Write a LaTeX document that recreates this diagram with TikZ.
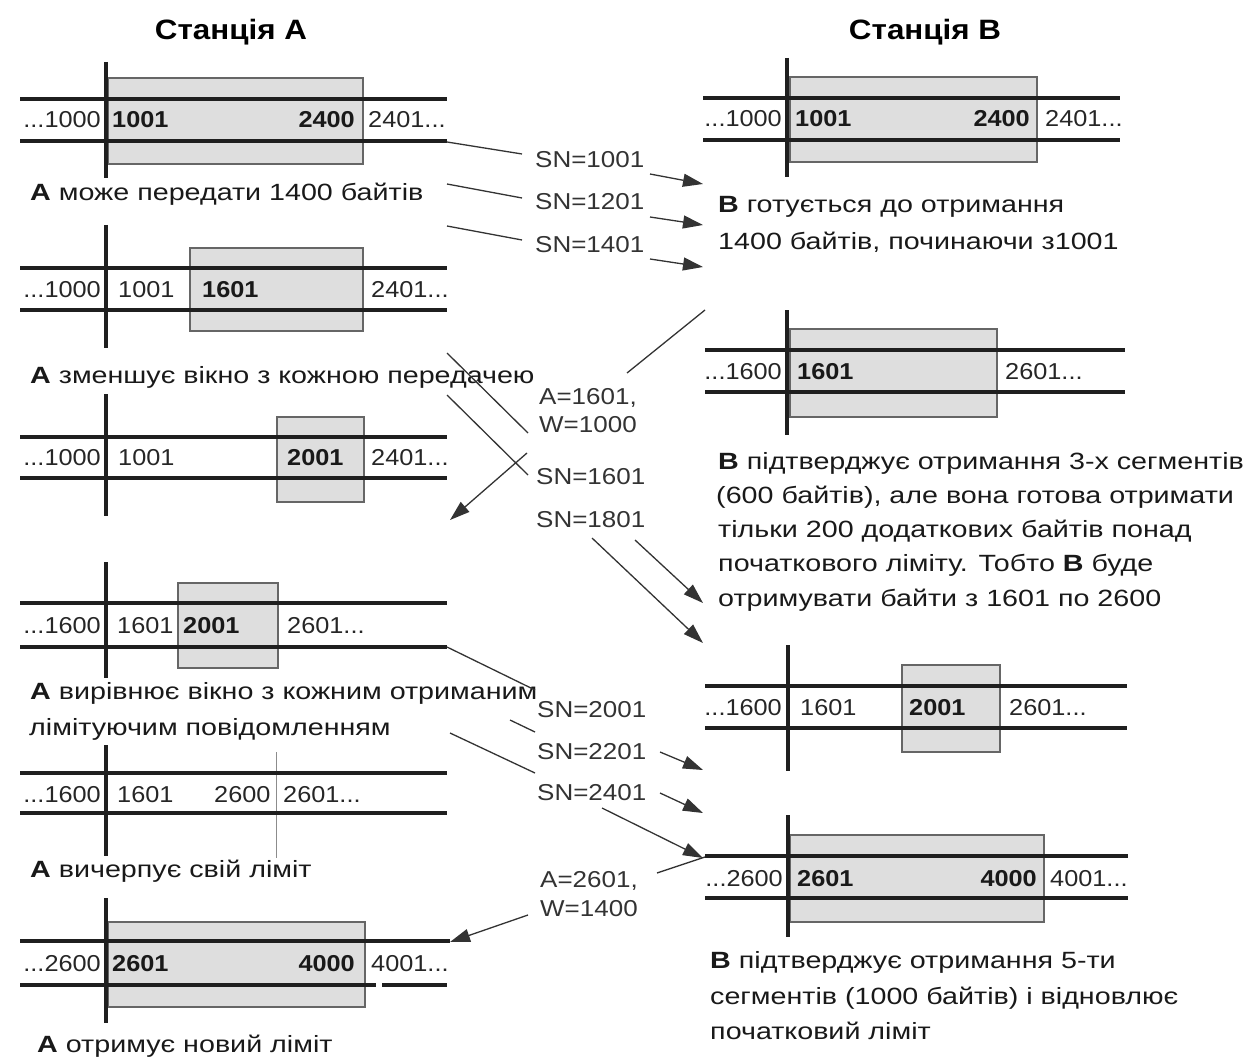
\documentclass[tikz,border=0pt]{standalone}
\usepackage{fontspec}
\setmainfont{Liberation Sans}
\newfontfamily\capfont{Liberation Sans}[FakeStretch=1.22]
\newfontfamily\numfont{Liberation Sans}[FakeStretch=1.1]
\newfontfamily\lblfont{Liberation Sans}[FakeStretch=1.13]
\newfontfamily\ttlfont{Liberation Sans}[FakeStretch=1.12]
\usetikzlibrary{arrows.meta}
\newcommand{\Strip}[7]{%
  \draw[tl] (#4,#2) -- (#5,#2);
  \draw[tl] (#4,#3) -- (#5,#3);
  \draw[vl] (#1,#6) -- (#1,#7);}
\begin{document}
\begin{tikzpicture}[x=1pt,y=-1pt,
  tl/.style={line width=3.6pt, black!88},
  vl/.style={line width=3.2pt, black!88},
  win/.style={fill=black!13, draw=black!60, line width=1.1pt},
  thinl/.style={line width=0.9pt, black!45},
  num/.style={font=\numfont\fontsize{23}{27}\selectfont, inner sep=0pt, text=black!85},
  bnum/.style={font=\numfont\fontsize{23}{27}\selectfont\bfseries, inner sep=0pt, text=black!90},
  capt/.style={font=\capfont\fontsize{23.5}{28}\selectfont, inner sep=0pt, anchor=base west, text=black!90},
  ttl/.style={font=\ttlfont\fontsize{28}{32}\selectfont\bfseries, inner sep=0pt, anchor=base},
  lbl/.style={font=\lblfont\fontsize{23}{27}\selectfont, inner sep=0pt, anchor=base west, text=black!80},
  conn/.style={line width=1.3pt, black!80},
  arr/.style={conn, -{Triangle[length=20pt,width=13pt]}}]
\useasboundingbox (0,0) rectangle (1257,1059);

% titles
\node[ttl] (tA) at (231,40) {Станція А};
\node[ttl] (tB) at (925,40) {Станція В};

% ---------- Station A ----------
% A1
\draw[win] (108,78) rectangle (363,164);
\Strip{106}{99}{141}{20}{447}{62}{178}
\node[num,anchor=base east] (a1n1) at (101,128) {...1000};
\node[bnum,anchor=base west] (a1n2) at (112,128) {1001};
\node[bnum,anchor=base east] (a1n3) at (355,128) {2400};
\node[num,anchor=base west] (a1n4) at (368,128) {2401...};
\node[capt] (a1c) at (30,201) {\textbf{А} може передати 1400 байтів};

% A2
\draw[win] (190,248) rectangle (363,331);
\Strip{106}{268}{310}{20}{447}{225}{348}
\node[num,anchor=base east] (a2n1) at (101,297) {...1000};
\node[num,anchor=base west] (a2n2) at (118,297) {1001};
\node[bnum,anchor=base west] (a2n3) at (202,297) {1601};
\node[num,anchor=base west] (a2n4) at (371,297) {2401...};
\node[capt] (a2c) at (30,383) {\textbf{А} зменшує вікно з кожною передачею};

% A3
\draw[win] (277,417) rectangle (364,502);
\Strip{106}{437}{478}{20}{447}{394}{516}
\node[num,anchor=base east] (a3n1) at (101,465) {...1000};
\node[num,anchor=base west] (a3n2) at (118,465) {1001};
\node[bnum,anchor=base west] (a3n3) at (287,465) {2001};
\node[num,anchor=base west] (a3n4) at (371,465) {2401...};

% A4
\draw[win] (178,583) rectangle (278,668);
\Strip{106}{603}{647}{20}{447}{562}{678}
\node[num,anchor=base east] (a4n1) at (101,633) {...1600};
\node[num,anchor=base west] (a4n2) at (117,633) {1601};
\node[bnum,anchor=base west] (a4n3) at (183,633) {2001};
\node[num,anchor=base west] (a4n4) at (287,633) {2601...};
\node[capt] (a4c1) at (30,699) {\textbf{А} вирівнює вікно з кожним отриманим};
\node[capt] (a4c2) at (29,735) {лімітуючим повідомленням};

% A5
\draw[thinl] (276,752) -- (276,858);
\Strip{106}{773}{813}{20}{447}{745}{856}
\node[num,anchor=base east] (a5n1) at (101,802) {...1600};
\node[num,anchor=base west] (a5n2) at (117,802) {1601};
\node[num,anchor=base west] (a5n3) at (214,802) {2600};
\node[num,anchor=base west] (a5n4) at (283,802) {2601...};
\node[capt] (a5c) at (30,877) {\textbf{А} вичерпує свій ліміт};

% A6
\draw[win] (108,922) rectangle (365,1007);
\draw[tl] (20,941) -- (450,941);
\draw[tl] (20,985) -- (376,985);
\draw[tl] (382,985) -- (447,985);
\draw[vl] (106,898) -- (106,1023);
\node[num,anchor=base east] (a6n1) at (101,971) {...2600};
\node[bnum,anchor=base west] (a6n2) at (112,971) {2601};
\node[bnum,anchor=base east] (a6n3) at (355,971) {4000};
\node[num,anchor=base west] (a6n4) at (371,971) {4001...};
\node[capt] (a6c) at (37,1052) {\textbf{А} отримує новий ліміт};

% ---------- Station B ----------
% B1
\draw[win] (790,77) rectangle (1037,162);
\Strip{787}{98}{140}{703}{1120}{58}{177}
\node[num,anchor=base east] (b1n1) at (782,127) {...1000};
\node[bnum,anchor=base west] (b1n2) at (795,127) {1001};
\node[bnum,anchor=base east] (b1n3) at (1030,127) {2400};
\node[num,anchor=base west] (b1n4) at (1045,127) {2401...};
\node[capt] (b1c1) at (718,213) {\textbf{В} готується до отримання};
\node[capt] (b1c2) at (718,250) {1400 байтів, починаючи з1001};

% B2
\draw[win] (790,329) rectangle (997,417);
\Strip{787}{350}{392}{705}{1125}{310}{435}
\node[num,anchor=base east] (b2n1) at (782,379) {...1600};
\node[bnum,anchor=base west] (b2n2) at (797,379) {1601};
\node[num,anchor=base west] (b2n3) at (1005,379) {2601...};
\node[capt] (b2c1) at (718,469) {\textbf{В} підтверджує отримання 3-х сегментів};
\node[capt] (b2c2) at (716,503) {(600 байтів), але вона готова отримати};
\node[capt] (b2c3) at (718,537) {тільки 200 додаткових байтів понад};
\node[capt] (b2c4) at (718,571) {початкового ліміту. Тобто \textbf{В} буде};
\node[capt] (b2c5) at (718,606) {отримувати байти з 1601 по 2600};

% B3
\draw[win] (902,665) rectangle (1000,752);
\Strip{788}{686}{728}{705}{1127}{645}{771}
\node[num,anchor=base east] (b3n1) at (782,715) {...1600};
\node[num,anchor=base west] (b3n2) at (800,715) {1601};
\node[bnum,anchor=base west] (b3n3) at (909,715) {2001};
\node[num,anchor=base west] (b3n4) at (1009,715) {2601...};

% B4
\draw[win] (790,835) rectangle (1044,922);
\Strip{788}{856}{898}{705}{1128}{815}{937}
\node[num,anchor=base east] (b4n1) at (783,886) {...2600};
\node[bnum,anchor=base west] (b4n2) at (797,886) {2601};
\node[bnum,anchor=base east] (b4n3) at (1037,886) {4000};
\node[num,anchor=base west] (b4n4) at (1050,886) {4001...};
\node[capt] (b4c1) at (710,968) {\textbf{В} підтверджує отримання 5-ти};
\node[capt] (b4c2) at (710,1004) {сегментів (1000 байтів) і відновлює};
\node[capt] (b4c3) at (710,1039) {початковий ліміт};

% ---------- middle labels ----------
\node[lbl] (sn1) at (535,168) {SN=1001};
\node[lbl] (sn2) at (535,210) {SN=1201};
\node[lbl] (sn3) at (535,252) {SN=1401};
\node[lbl] (ak1a) at (539,404) {A=1601,};
\node[lbl] (ak1b) at (539,432) {W=1000};
\node[lbl] (sn4) at (536,484) {SN=1601};
\node[lbl] (sn5) at (536,527) {SN=1801};
\node[lbl] (sn6) at (537,717) {SN=2001};
\node[lbl] (sn7) at (537,759) {SN=2201};
\node[lbl] (sn8) at (537,800) {SN=2401};
\node[lbl] (ak2a) at (540,887) {A=2601,};
\node[lbl] (ak2b) at (540,916) {W=1400};

% ---------- connectors ----------
\coordinate (s1a) at (447,142); \coordinate (s1b) at (522,154);
\coordinate (s1c) at (650,174); \coordinate (s1d) at (703,184);
\coordinate (s2a) at (447,184); \coordinate (s2b) at (522,198);
\coordinate (s2c) at (650,217); \coordinate (s2d) at (703,225);
\coordinate (s3a) at (447,226); \coordinate (s3b) at (522,240);
\coordinate (s3c) at (650,259); \coordinate (s3d) at (703,267);
\coordinate (k1a) at (705,310); \coordinate (k1b) at (627,373);
\coordinate (k1c) at (527,453); \coordinate (k1d) at (450,520);
\coordinate (s4a) at (447,353); \coordinate (s4b) at (528,433);
\coordinate (s4c) at (635,540); \coordinate (s4d) at (703,603);
\coordinate (s5a) at (447,395); \coordinate (s5b) at (528,475);
\coordinate (s5c) at (592,538); \coordinate (s5d) at (703,643);
\coordinate (s6a) at (447,647); \coordinate (s6b) at (535,690);
\coordinate (s6c) at (660,752); \coordinate (s6d) at (703,770);
\coordinate (s7a) at (510,720); \coordinate (s7b) at (535,732);
\coordinate (s7c) at (660,793); \coordinate (s7d) at (703,813);
\coordinate (s8a) at (450,733); \coordinate (s8b) at (535,773);
\coordinate (s8c) at (602,808); \coordinate (s8d) at (703,858);
\coordinate (k2a) at (705,857); \coordinate (k2b) at (657,873);
\coordinate (k2c) at (528,915); \coordinate (k2d) at (450,942);

\draw[conn] (s1a) -- (s1b); \draw[arr] (s1c) -- (s1d);
\draw[conn] (s2a) -- (s2b); \draw[arr] (s2c) -- (s2d);
\draw[conn] (s3a) -- (s3b); \draw[arr] (s3c) -- (s3d);
\draw[conn] (k1a) -- (k1b); \draw[arr] (k1c) -- (k1d);
\draw[conn] (s4a) -- (s4b); \draw[arr] (s4c) -- (s4d);
\draw[conn] (s5a) -- (s5b); \draw[arr] (s5c) -- (s5d);
\draw[conn] (s6a) -- (s6b); \draw[arr] (s6c) -- (s6d);
\draw[conn] (s7a) -- (s7b); \draw[arr] (s7c) -- (s7d);
\draw[conn] (s8a) -- (s8b); \draw[arr] (s8c) -- (s8d);
\draw[conn] (k2a) -- (k2b); \draw[arr] (k2c) -- (k2d);
\end{tikzpicture}
\end{document}
